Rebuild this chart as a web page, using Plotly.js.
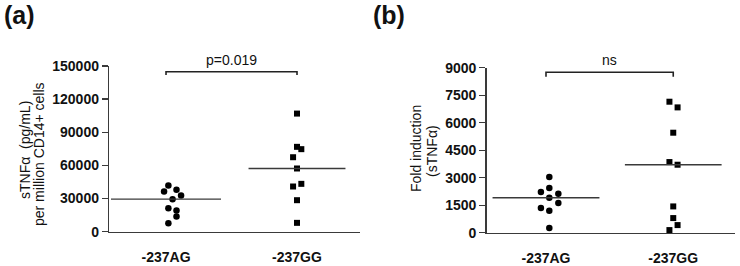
<!DOCTYPE html>
<html>
<head>
<meta charset="utf-8">
<script src="https://cdn.plot.ly/plotly-3.0.1.min.js"></script>
<style>html,body{margin:0;padding:0;background:#fff;}#chart{width:740px;height:266px;}</style>
</head>
<body>
<div id="chart"></div>
<script>
// ---- data ----
var categories = ["-237AG", "-237GG"];
var catIndex = [0, 1];

// Panel (a): sTNFα (pg/mL) per million CD14+ cells
var aAG = [41800, 36400, 37900, 32800, 29400, 21300, 19200, 13800, 7700];
var aAGjitter = [0.018, -0.015, 0.08, 0.115, 0.05, 0.018, 0.08, 0.08, 0.018];
var aGG = [106900, 76800, 74700, 67400, 57200, 43300, 40900, 28500, 8000];
var aGGjitter = [0, 0, 0.033, -0.03, 0, 0.033, -0.03, 0, 0];
var aMedians = [29400, 57200];
var aMedianHalf = [0.42, 0.37];
var aBracket = [141800, 144800];
var aLabel = "p=0.019";
var aTicks = [0, 30000, 60000, 90000, 120000, 150000];

// Panel (b): Fold induction (sTNFα)
var bAG = [3036, 2436, 2218, 2127, 1909, 1618, 1345, 1200, 255];
var bAGjitter = [0.026, 0.026, -0.04, 0.097, 0.026, 0.097, -0.04, 0.026, 0.026];
var bGG = [7145, 6836, 5455, 3855, 3709, 1436, 800, 418, 145];
var bGGjitter = [-0.03, 0.034, 0, -0.03, 0.034, 0, 0, 0.034, -0.03];
var bMedians = [1909, 3709];
var bMedianHalf = [0.42, 0.38];
var bBracket = [8510, 8750];
var bLabel = "ns";
var bTicks = [0, 1500, 3000, 4500, 6000, 7500, 9000];

// ---- build ----
function addJitter(c, j) { return j.map(function (d) { return c + d; }); }
var FONT = "Liberation Sans, Arial, sans-serif";
var ink = "#111";
var lineCol = "#3a3a3a";

function panelTraces(xa, ya, ag, agj, gg, ggj, med, half, br) {
  var t = [];
  t.push({x: addJitter(catIndex[0], agj), y: ag, xaxis: xa, yaxis: ya, type: "scatter", mode: "markers",
    marker: {symbol: "circle", size: 6.5, color: "#000"}, cliponaxis: false, hoverinfo: "y"});
  t.push({x: addJitter(catIndex[1], ggj), y: gg, xaxis: xa, yaxis: ya, type: "scatter", mode: "markers",
    marker: {symbol: "square", size: 6, color: "#000"}, cliponaxis: false, hoverinfo: "y"});
  for (var i = 0; i < 2; i++) {
    t.push({x: [catIndex[i] - half[i], catIndex[i] + half[i]], y: [med[i], med[i]], xaxis: xa, yaxis: ya,
      type: "scatter", mode: "lines", line: {color: lineCol, width: 1.3}, cliponaxis: false, hoverinfo: "skip"});
  }
  t.push({x: [catIndex[0], catIndex[0], catIndex[1], catIndex[1]], y: [br[0], br[1], br[1], br[0]],
    xaxis: xa, yaxis: ya, type: "scatter", mode: "lines", line: {color: "#222", width: 1.6},
    cliponaxis: false, hoverinfo: "skip"});
  return t;
}

var traces = [].concat(
  panelTraces("x", "y", aAG, aAGjitter, aGG, aGGjitter, aMedians, aMedianHalf, aBracket),
  panelTraces("x2", "y2", bAG, bAGjitter, bGG, bGGjitter, bMedians, bMedianHalf, bBracket)
);

function xAxis(domain, range, anchor) {
  return {domain: domain, range: range, anchor: anchor, tickvals: catIndex, ticktext: categories,
    showgrid: false, zeroline: false, showline: true, linecolor: lineCol, linewidth: 1.5,
    ticks: "", ticklabelstandoff: 12, fixedrange: true,
    tickfont: {family: FONT, size: 14, color: ink, weight: "bold"}};
}
function yAxis(domain, range, anchor, ticks) {
  return {domain: domain, range: range, anchor: anchor, tickvals: ticks, ticktext: ticks.map(String),
    showgrid: false, zeroline: false, showline: true, linecolor: lineCol, linewidth: 1.5,
    ticks: "outside", ticklen: 6, tickwidth: 1.3, tickcolor: lineCol, ticklabelstandoff: 0,
    tickfont: {family: FONT, size: 14, color: ink, weight: "bold"}, fixedrange: true};
}

var layout = {
  width: 740, height: 266,
  margin: {l: 0, r: 0, t: 0, b: 0},
  paper_bgcolor: "#fff", plot_bgcolor: "#fff",
  showlegend: false,
  xaxis: xAxis([0.1477, 0.4865], [-0.433, 1.481], "y"),
  yaxis: yAxis([0.129, 0.752], [0, 150000], "x", aTicks),
  xaxis2: xAxis([0.6577, 0.9932], [-0.466, 1.485], "y2"),
  yaxis2: yAxis([0.125, 0.7455], [0, 9000], "x2", bTicks),
  annotations: [
    {text: "<b>(a)</b>", xref: "paper", yref: "paper", x: 19 / 740, y: 1 - 15 / 266, showarrow: false,
      font: {family: FONT, size: 25, color: ink}, xanchor: "center", yanchor: "middle"},
    {text: "<b>(b)</b>", xref: "paper", yref: "paper", x: 389 / 740, y: 1 - 15 / 266, showarrow: false,
      font: {family: FONT, size: 25, color: ink}, xanchor: "center", yanchor: "middle"},
    {text: "sTNFα  (pg/mL)", xref: "paper", yref: "paper", x: 25 / 740, y: 1 - 150 / 266, textangle: -90,
      showarrow: false, font: {family: FONT, size: 14, color: ink}, xanchor: "center", yanchor: "middle"},
    {text: "per million CD14+ cells", xref: "paper", yref: "paper", x: 39 / 740, y: 1 - 154 / 266, textangle: -90,
      showarrow: false, font: {family: FONT, size: 14, color: ink}, xanchor: "center", yanchor: "middle"},
    {text: "Fold induction", xref: "paper", yref: "paper", x: 416 / 740, y: 1 - 149 / 266, textangle: -90,
      showarrow: false, font: {family: FONT, size: 14, color: ink}, xanchor: "center", yanchor: "middle"},
    {text: "(sTNFα)", xref: "paper", yref: "paper", x: 432 / 740, y: 1 - 151 / 266, textangle: -90,
      showarrow: false, font: {family: FONT, size: 14, color: ink}, xanchor: "center", yanchor: "middle"},
    {text: aLabel, xref: "x", yref: "y", x: (catIndex[0] + catIndex[1]) / 2, y: aBracket[1], yshift: 2,
      showarrow: false, font: {family: FONT, size: 14, color: ink}, xanchor: "center", yanchor: "bottom"},
    {text: bLabel, xref: "x2", yref: "y2", x: (catIndex[0] + catIndex[1]) / 2, y: bBracket[1], yshift: 2,
      showarrow: false, font: {family: FONT, size: 14, color: ink}, xanchor: "center", yanchor: "bottom"}
  ]
};

Plotly.newPlot("chart", traces, layout, {displayModeBar: false, staticPlot: true});
</script>
</body>
</html>
